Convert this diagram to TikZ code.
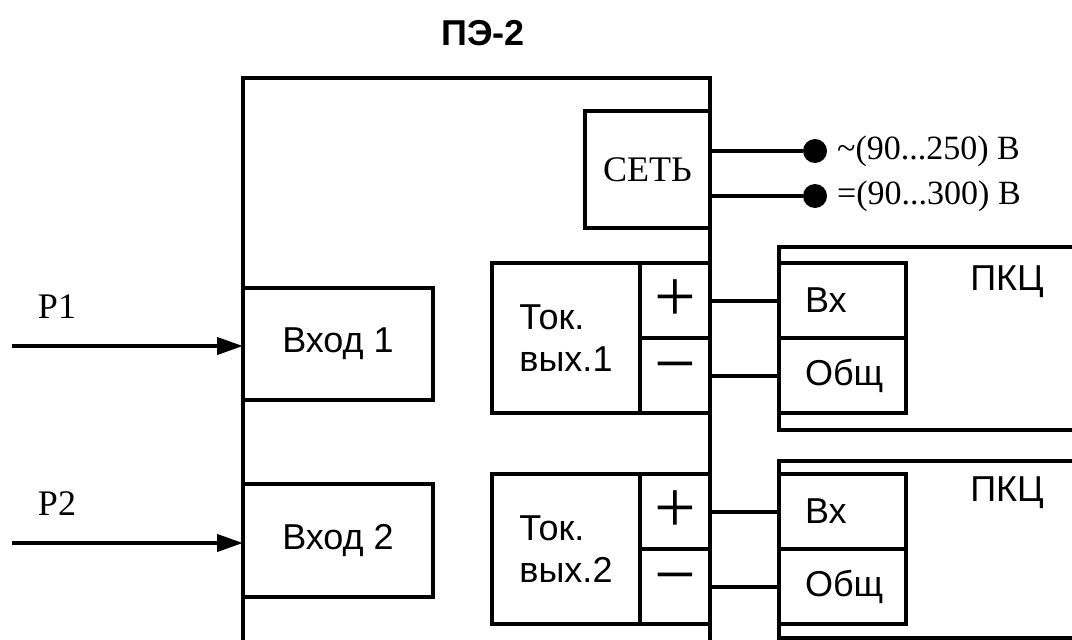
\documentclass[tikz,border=0pt]{standalone}
\usepackage{fontspec}
\setmainfont{Liberation Serif}
\setsansfont{Liberation Sans}
\usetikzlibrary{arrows.meta,positioning}
\tikzset{
  blk/.style={draw,rectangle,line width=4pt,inner sep=0pt,outer sep=0pt,font=\sffamily\fontsize{36}{42}\selectfont},
  sub/.style={blk,line width=3.5pt},
  pin/.style={sub,minimum width=70,minimum height=75,anchor=north west,font=\rmfamily\fontsize{74}{74}\selectfont},
  cell/.style={sub,minimum height=75,text width=75pt,inner xsep=26pt,align=left,anchor=north west},
  wire/.style={line width=4pt},
  sig/.style={-{Triangle[length=26pt,width=17pt]},line width=4pt},
  dot/.style={circle,fill,inner sep=0pt,outer sep=0pt,minimum size=24pt},
  rm/.style={font=\rmfamily\fontsize{36}{42}\selectfont},
  volt/.style={font=\rmfamily\fontsize{34}{40}\selectfont,inner sep=0pt,anchor=west},
  sf/.style={font=\sffamily\fontsize{36}{42}\selectfont}
}

\begin{document}
\begin{tikzpicture}[x=1pt,y=-1pt]
\useasboundingbox (0,0) rectangle (1072,640);
\clip (0,0) rectangle (1072,640);

\node[font=\sffamily\bfseries\fontsize{36}{42}\selectfont] (ttl) at (483,33) {ПЭ-2};
\node[blk,anchor=north west,minimum width=467,minimum height=640] (pe) at (243,78) {};

% power supply
\node[blk,rm,anchor=north east,minimum width=125,minimum height=117] (set) at (710,111) {СЕТЬ};
\node[dot] (d1) at (815,151) {};
\node[dot] (d2) at (815,196) {};
\draw[wire] (set.east |- d1) -- (d1);
\draw[wire] (set.east |- d2) -- (d2);
\node[volt,right=10pt of d1] (u1) {\textasciitilde(90...250) В};
\node[volt,right=10pt of d2] (u2) {=(90...300) В};

% inputs
\node[blk,anchor=north west,minimum width=190,minimum height=112] (in1) at (243,288) {Вход 1};
\node[blk,anchor=north west,minimum width=190,minimum height=113] (in2) at (243,484) {Вход 2};
\coordinate (p1) at (12,346);
\coordinate (p2) at (12,543);
\draw[sig] (p1) -- (in1.west |- p1);
\draw[sig] (p2) -- (in2.west |- p2);
\node[rm] (p1t) at (57,307) {P1};
\node[rm] (p2t) at (57,504) {P2};

% current outputs
\node[blk,anchor=north west,minimum width=148,minimum height=150,align=left] (tok1) at (492,263) {Ток.\\вых.1};
\node[pin] (pl1) at (tok1.north east) {+};
\node[pin] (mn1) at (pl1.south west) {−};
\node[blk,anchor=north west,minimum width=148,minimum height=150,align=left] (tok2) at (492,474) {Ток.\\вых.2};
\node[pin] (pl2) at (tok2.north east) {+};
\node[pin] (mn2) at (pl2.south west) {−};

% receivers
\node[blk,anchor=north west,minimum width=320,minimum height=183] (pkc1) at (779,247) {};
\node[sf] (pkc1t) at (1007,282) {ПКЦ};
\node[cell] (vx1) at (779,263) {Вх};
\node[cell] (ob1) at (vx1.south west) {Общ};
\node[blk,anchor=north west,minimum width=320,minimum height=177] (pkc2) at (779,461) {};
\node[sf] (pkc2t) at (1007,493) {ПКЦ};
\node[cell] (vx2) at (779,474) {Вх};
\node[cell] (ob2) at (vx2.south west) {Общ};

\draw[wire] (pl1.east) -- (pl1.east -| vx1.west);
\draw[wire] (mn1.east) -- (mn1.east -| ob1.west);
\draw[wire] (pl2.east) -- (pl2.east -| vx2.west);
\draw[wire] (mn2.east) -- (mn2.east -| ob2.west);

\end{tikzpicture}
\end{document}
